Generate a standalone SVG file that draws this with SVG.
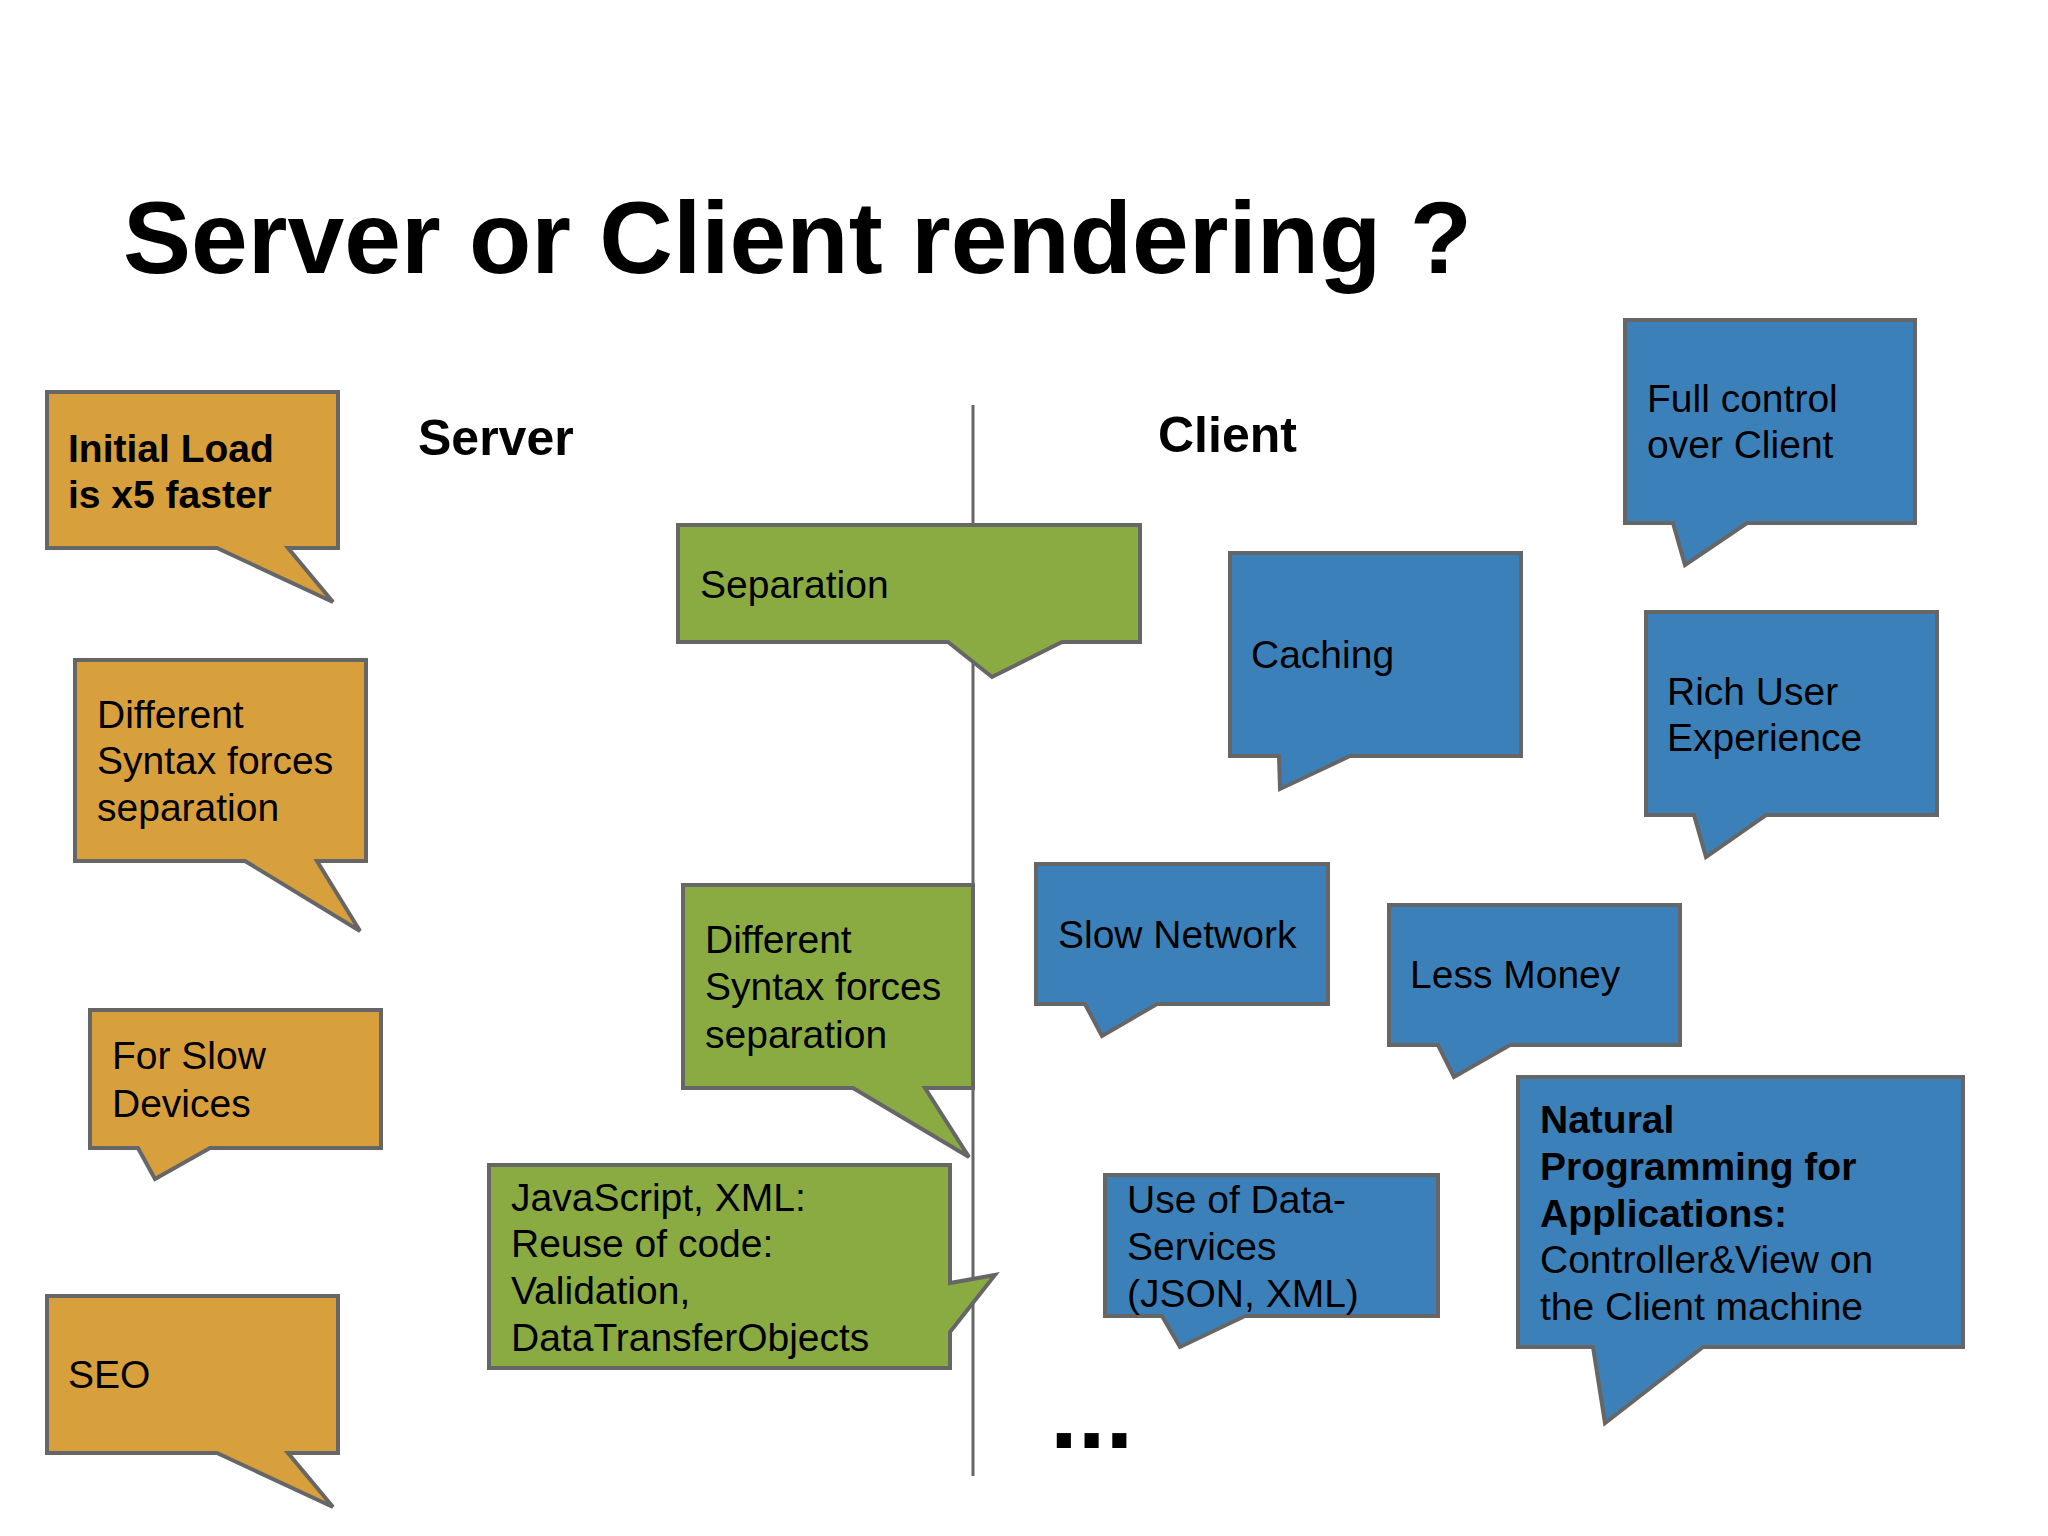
<svg xmlns="http://www.w3.org/2000/svg" width="2048" height="1536" viewBox="0 0 2048 1536">
<style>
.b{stroke:#666666;stroke-width:4;stroke-linejoin:miter}
.o{fill:#D89F3D}
.g{fill:#8AAB42}
.u{fill:#3C80BA}
text{font-family:"Liberation Sans",Arial,sans-serif;fill:#000}
.t{font-size:39px}
.tb{font-size:39px;font-weight:bold}
.h{font-size:50px;font-weight:bold}
</style>
<rect width="2048" height="1536" fill="#ffffff"/>
<g id="title"><text x="123" y="273" style="font-size:102px;font-weight:bold">Server or Client rendering ?</text></g>
<g id="connectors"><line x1="973" y1="405" x2="973" y2="1476" stroke="#666666" stroke-width="3"/></g>
<g id="header-server"><text class="h" x="418" y="455">Server</text></g>
<g id="header-client"><text class="h" x="1158" y="452">Client</text></g>

<g id="initial-load"><path class="b o" d="M47,392 H338 V548 H288 L333,602 L217,548 H47 Z"/>
<text class="tb" x="68" y="462">Initial Load</text><text class="tb" x="68" y="508">is x5 faster</text></g>
<g id="different-syntax-server"><path class="b o" d="M75,660 H366 V861 H317 L360,931 L245,861 H75 Z"/>
<text class="t" x="97" y="728">Different</text><text class="t" x="97" y="774">Syntax forces</text><text class="t" x="97" y="821">separation</text></g>
<g id="slow-devices"><path class="b o" d="M90,1010 H381 V1148 H210 L155,1179 L138,1148 H90 Z"/>
<text class="t" x="112" y="1069">For Slow</text><text class="t" x="112" y="1117">Devices</text></g>
<g id="seo"><path class="b o" d="M47,1296 H338 V1453 H288 L333,1507 L217,1453 H47 Z"/>
<text class="t" x="68" y="1388">SEO</text></g>

<g id="separation"><path class="b g" d="M678,525 H1140 V642 H1062 L992,677 L948,642 H678 Z"/>
<text class="t" x="700" y="598">Separation</text></g>
<g id="different-syntax-both"><path class="b g" d="M683,885 H973 V1088 H925 L969,1157 L853,1088 H683 Z"/>
<text class="t" x="705" y="953">Different</text><text class="t" x="705" y="1000">Syntax forces</text><text class="t" x="705" y="1048">separation</text></g>
<g id="javascript-xml"><path class="b g" d="M489,1165 H950 V1283 L995,1275 L950,1332 V1368 H489 Z"/>
<text class="t" x="511" y="1211">JavaScript, XML:</text><text class="t" x="511" y="1257">Reuse of code:</text><text class="t" x="511" y="1304">Validation,</text><text class="t" x="511" y="1351">DataTransferObjects</text></g>

<g id="full-control"><path class="b u" d="M1625,320 H1915 V523 H1747 L1685,565 L1673,523 H1625 Z"/>
<text class="t" x="1647" y="412">Full control</text><text class="t" x="1647" y="458">over Client</text></g>
<g id="caching"><path class="b u" d="M1230,553 H1521 V756 H1350 L1280,789 L1279,756 H1230 Z"/>
<text class="t" x="1251" y="668">Caching</text></g>
<g id="rich-user"><path class="b u" d="M1646,612 H1937 V815 H1766 L1706,857 L1694,815 H1646 Z"/>
<text class="t" x="1667" y="705">Rich User</text><text class="t" x="1667" y="751">Experience</text></g>
<g id="slow-network"><path class="b u" d="M1036,864 H1328 V1004 H1157 L1102,1036 L1085,1004 H1036 Z"/>
<text class="t" x="1058" y="948">Slow Network</text></g>
<g id="less-money"><path class="b u" d="M1389,905 H1680 V1045 H1510 L1454,1077 L1438,1045 H1389 Z"/>
<text class="t" x="1410" y="988">Less Money</text></g>
<g id="data-services"><path class="b u" d="M1105,1175 H1438 V1316 H1245 L1180,1347 L1162,1316 H1105 Z"/>
<text class="t" x="1127" y="1213">Use of Data-</text><text class="t" x="1127" y="1260">Services</text><text class="t" x="1127" y="1307">(JSON, XML)</text></g>
<g id="natural-programming"><path class="b u" d="M1518,1077 H1963 V1347 H1703 L1605,1423 L1593,1347 H1518 Z"/>
<text class="tb" x="1540" y="1133">Natural</text><text class="tb" x="1540" y="1180">Programming for</text><text class="tb" x="1540" y="1227">Applications:</text><text class="t" x="1540" y="1273">Controller&amp;View on</text><text class="t" x="1540" y="1320">the Client machine</text></g>

<g id="ellipsis"><text x="1050" y="1448" style="font-size:100px;font-weight:bold">...</text></g>
</svg>
